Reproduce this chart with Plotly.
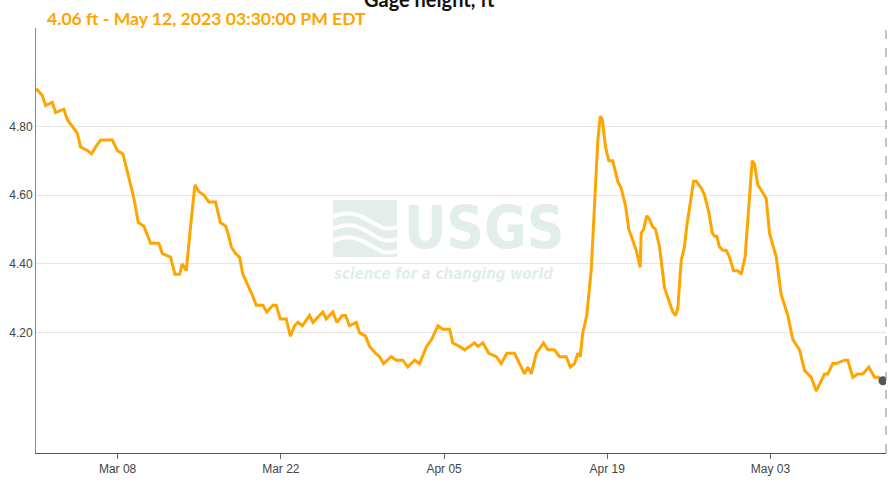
import plotly.graph_objects as go
import pandas as pd

# ---- data ----
start = pd.Timestamp("2023-03-01 00:00")
days_since_mar1 = [
    0.00, 0.54, 0.82, 1.40, 1.68, 2.39, 2.68, 3.11, 3.54, 3.82, 4.40, 4.77, 5.11, 5.54,
    6.54, 6.97, 7.45, 7.97, 8.40, 8.77, 9.25, 9.83, 10.54, 10.83, 11.54, 11.91, 12.32,
    12.55, 12.89, 13.26, 13.63, 13.97, 14.40, 14.83, 15.40, 15.81, 16.26, 16.46, 16.75,
    17.12, 17.46, 17.74, 18.17, 18.55, 18.89, 19.46, 19.80, 20.32, 20.61, 20.95, 21.47,
    21.81, 22.18, 22.46, 22.84, 23.46, 23.75, 24.32, 24.60, 24.90, 25.46, 25.81, 26.27,
    26.55, 26.89, 27.47, 27.75, 28.27, 28.61, 29.12, 29.47, 29.81, 30.47, 30.90, 31.46,
    31.89, 32.47, 32.90, 33.50, 33.93, 34.47, 34.90, 35.47, 35.75, 36.33, 36.76, 37.19,
    37.61, 37.90, 38.33, 38.84, 39.48, 39.90, 40.38, 41.04, 41.33, 41.62, 41.90, 42.19,
    42.48, 42.91, 43.53, 43.90, 44.47, 44.90, 45.48, 45.82, 46.19, 46.47, 46.68, 46.90,
    47.24, 47.62, 47.91, 48.19, 48.40, 48.57, 48.85, 49.13, 49.47, 49.90, 50.19, 50.56,
    50.85, 51.19, 51.48, 51.82, 51.91, 52.11, 52.39, 52.62, 52.85, 53.14, 53.48, 53.91,
    54.28, 54.62, 54.85, 55.05, 55.34, 55.62, 55.82, 56.11, 56.40, 56.63, 57.06, 57.34,
    57.71, 58.00, 58.20, 58.39, 58.62, 58.91, 59.20, 59.48, 59.83, 60.20, 60.49, 60.82,
    61.14, 61.43, 61.63, 61.91, 62.29, 62.63, 62.91, 63.49, 63.92, 64.49, 64.91, 65.49,
    65.92, 66.49, 66.92, 67.63, 67.91, 68.34, 68.63, 69.35, 69.63, 70.06, 70.49, 70.92,
    71.43, 71.92, 72.29, 72.646,
]
gage_height_ft = [
    4.91, 4.89, 4.86, 4.87, 4.84, 4.85, 4.82, 4.80, 4.78, 4.74, 4.73, 4.72, 4.74, 4.76,
    4.76, 4.73, 4.72, 4.65, 4.59, 4.52, 4.51, 4.46, 4.46, 4.43, 4.42, 4.37, 4.37,
    4.40, 4.38, 4.51, 4.63, 4.61, 4.60, 4.58, 4.58, 4.52, 4.51, 4.49, 4.45,
    4.43, 4.42, 4.37, 4.34, 4.31, 4.28, 4.28, 4.26, 4.28, 4.28, 4.24, 4.24,
    4.19, 4.22, 4.23, 4.22, 4.25, 4.23, 4.25, 4.26, 4.24, 4.26, 4.23, 4.25,
    4.25, 4.22, 4.23, 4.20, 4.19, 4.16, 4.14, 4.13, 4.11, 4.13, 4.12, 4.12,
    4.10, 4.12, 4.11, 4.16, 4.18, 4.22, 4.21, 4.21, 4.17, 4.16, 4.15, 4.16,
    4.17, 4.16, 4.17, 4.14, 4.13, 4.11, 4.14, 4.14, 4.12, 4.10, 4.08, 4.10,
    4.08, 4.14, 4.17, 4.15, 4.15, 4.13, 4.13, 4.10, 4.11, 4.14, 4.13, 4.20,
    4.25, 4.38, 4.59, 4.76, 4.83, 4.82, 4.74, 4.70, 4.70, 4.64, 4.62, 4.57,
    4.50, 4.47, 4.44, 4.39, 4.49, 4.50, 4.54, 4.53, 4.51, 4.50, 4.45, 4.33,
    4.29, 4.26, 4.25, 4.27, 4.41, 4.45, 4.51, 4.58, 4.64, 4.64, 4.62, 4.60,
    4.55, 4.49, 4.48, 4.48, 4.45, 4.44, 4.44, 4.42, 4.38, 4.38, 4.37, 4.42,
    4.57, 4.70, 4.69, 4.63, 4.61, 4.59, 4.49, 4.42, 4.31, 4.25, 4.18, 4.15,
    4.09, 4.07, 4.03, 4.08, 4.08, 4.11, 4.11, 4.12, 4.12, 4.07, 4.08, 4.08,
    4.10, 4.07, 4.07, 4.06,
]
x_tick_dates = ["2023-03-08", "2023-03-22", "2023-04-05", "2023-04-19", "2023-05-03"]
x_tick_labels = ["Mar 08", "Mar 22", "Apr 05", "Apr 19", "May 03"]
y_tick_values = [4.20, 4.40, 4.60, 4.80]
y_tick_labels = ["4.20", "4.40", "4.60", "4.80"]
title_text = "Gage height, ft"
subtitle_text = "4.06 ft - May 12, 2023 03:30:00 PM EDT"

times = start + pd.to_timedelta(days_since_mar1, unit="D")

# ---- layout geometry helpers (pixel -> paper) ----
W, H = 894, 484
ML, MR, MT, MB = 36, 8, 28, 31
PW, PH = W - ML - MR, H - MT - MB


def px(x):
    return (x - ML) / PW


def py(y):
    return (H - MB - y) / PH


ORANGE = "#FFA500"
WM = "#e3ede9"

fig = go.Figure()
fig.add_trace(go.Scatter(
    x=times, y=gage_height_ft, mode="lines",
    line=dict(color=ORANGE, width=3), hoverinfo="skip",
))
fig.add_trace(go.Scatter(
    x=[times[-1]], y=[gage_height_ft[-1]], mode="markers",
    marker=dict(color="#555555", size=9), hoverinfo="skip",
))

shapes = []
# watermark icon
shapes.append(dict(type="rect", xref="paper", yref="paper",
                   x0=px(333), x1=px(397), y0=py(257), y1=py(200),
                   fillcolor=WM, line=dict(width=0), layer="below"))
for y0 in (213, 225, 237):
    path = "M {:.4f},{:.4f} C {:.4f},{:.4f} {:.4f},{:.4f} {:.4f},{:.4f} S {:.4f},{:.4f} {:.4f},{:.4f}".format(
        px(333), py(y0 + 4), px(348), py(y0 - 4), px(360), py(y0 + 2),
        px(370), py(y0 + 8), px(385), py(y0 + 18), px(397), py(y0 + 14))
    shapes.append(dict(type="path", xref="paper", yref="paper", path=path,
                       line=dict(color="white", width=4), layer="below"))
# dashed "now" line at right edge
shapes.append(dict(type="line", xref="paper", yref="paper", x0=1, x1=1, y0=0, y1=1,
                   line=dict(color="#888888", width=1, dash="dash")))

annotations = [
    dict(text="<b>USGS</b>", xref="paper", yref="paper", x=px(402), y=py(228),
         xanchor="left", yanchor="middle", showarrow=False,
         font=dict(family="DejaVu Sans Condensed, Liberation Sans Narrow, sans-serif",
                   size=58, color=WM)),
    dict(text="<b><i>science for a changing world</i></b>", xref="paper", yref="paper",
         x=px(443), y=py(274), xanchor="center", yanchor="middle", showarrow=False,
         font=dict(family="DejaVu Sans Condensed, Liberation Sans Narrow, sans-serif",
                   size=15, color=WM)),
    dict(text="<b>" + title_text + "</b>", xref="paper", yref="paper",
         x=px(362), y=py(-1), xanchor="left", yanchor="middle", showarrow=False,
         font=dict(family="Lato, sans-serif", size=20, color="#111111")),
    dict(text="<b>" + subtitle_text + "</b>", xref="paper", yref="paper",
         x=px(45), y=py(18), xanchor="left", yanchor="middle", showarrow=False,
         font=dict(family="Lato, sans-serif", size=17.6, color=ORANGE)),
]

fig.update_layout(
    width=W, height=H,
    margin=dict(l=ML, r=MR, t=MT, b=MB, pad=0),
    plot_bgcolor="white", paper_bgcolor="white",
    showlegend=False,
    shapes=shapes, annotations=annotations,
    xaxis=dict(
        type="date",
        range=[start, pd.Timestamp("2023-05-12 21:45")],
        tickvals=x_tick_dates, ticktext=x_tick_labels,
        ticks="outside", ticklen=5, tickcolor="#666666",
        showgrid=False, zeroline=False,
        showline=True, linecolor="#555555", linewidth=1,
        tickfont=dict(family="Liberation Sans, Arial, sans-serif", size=12, color="#444444"),
    ),
    yaxis=dict(
        range=[3.85, 5.086],
        tickvals=y_tick_values, ticktext=y_tick_labels,
        ticks="", showgrid=True, gridcolor="#e6e6e6", gridwidth=1,
        zeroline=False, showline=True, linecolor="#888888", linewidth=1,
        tickfont=dict(family="Liberation Sans, Arial, sans-serif", size=12, color="#444444"),
    ),
)

fig.write_html("out.html", config={"displayModeBar": False},
               post_script="document.body.style.margin='0';")
